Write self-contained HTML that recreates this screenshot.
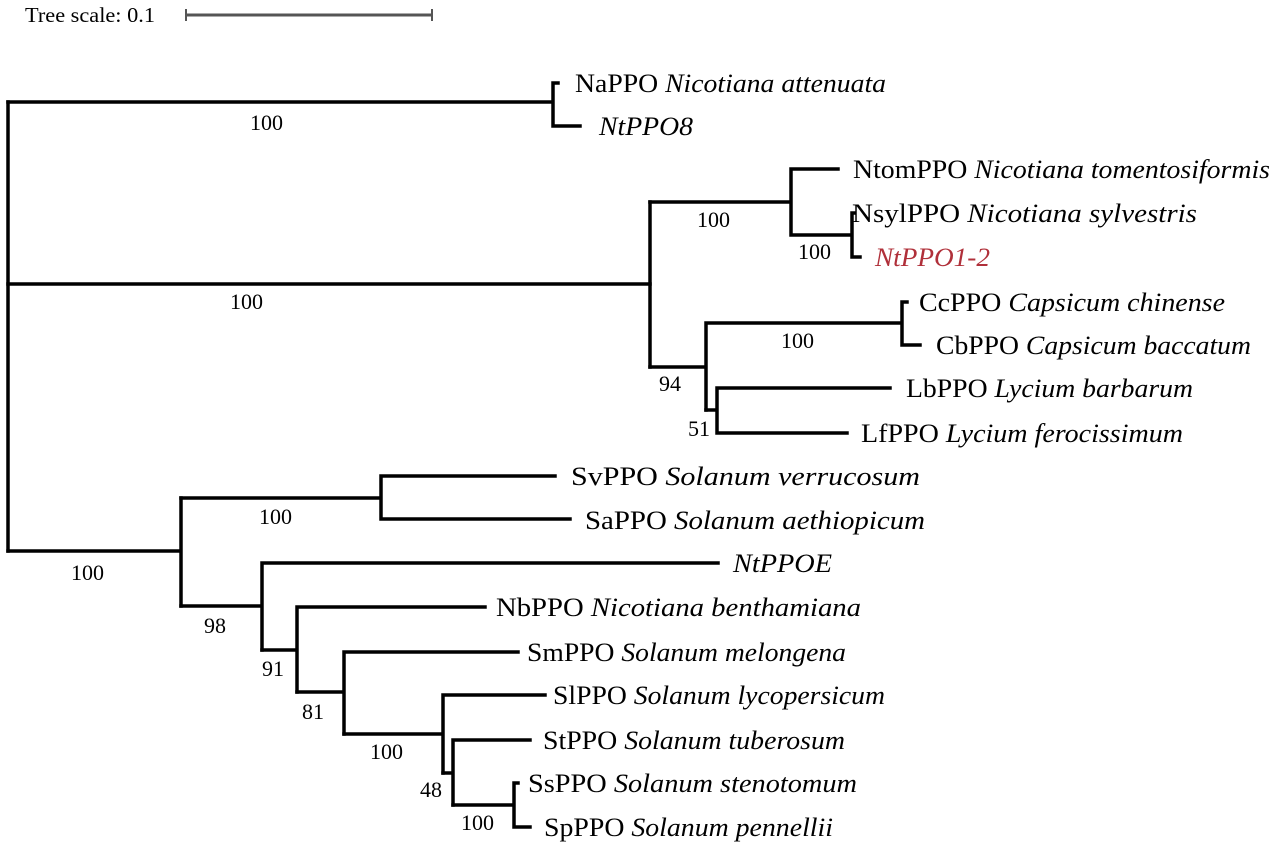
<!DOCTYPE html>
<html><head><meta charset="utf-8"><style>
html,body{margin:0;padding:0;background:#fff;}
svg{display:block;font-family:"Liberation Serif",serif;}
text{font-size:26px;fill:#000;}
.b{font-size:22px;}
</style></head><body>
<svg width="1276" height="849" viewBox="0 0 1276 849">
<text x="25" y="22" style="font-size:21px" textLength="130" lengthAdjust="spacingAndGlyphs">Tree scale: 0.1</text>
<g stroke="#555" stroke-width="3" fill="none">
<line x1="186" y1="15" x2="432" y2="15"/>
<line x1="186" y1="9" x2="186" y2="21" stroke-width="2"/>
<line x1="432" y1="9" x2="432" y2="21" stroke-width="2"/>
</g>
<g stroke="#000" stroke-width="3.5" fill="none" stroke-linecap="square">
<path d="M8 102V551"/>
<path d="M8 102H553M553 83V126M553 83H558M553 126H580"/>
<path d="M8 284H650"/>
<path d="M650 202V367"/>
<path d="M650 202H791M791 169V235M791 169H838M791 235H852M852 213V257M852 213H854M852 257H860"/>
<path d="M650 367H706M706 323V410M706 323H902M902 302V345M902 302H907M902 345H920"/>
<path d="M706 410H717M717 388V433M717 388H890M717 433H847"/>
<path d="M8 551H181M181 498V606"/>
<path d="M181 498H381M381 476V519M381 476H555M381 519H570"/>
<path d="M181 606H262M262 563V650M262 563H718"/>
<path d="M262 650H297M297 607V692M297 607H485"/>
<path d="M297 692H344M344 652V734M344 652H518"/>
<path d="M344 734H443M443 695V773M443 695H545"/>
<path d="M443 773H453M453 740V805M453 740H530"/>
<path d="M453 805H514M514 783V827M514 783H518M514 827H530"/>
</g>
<g>
<text x="575" y="92" textLength="311" lengthAdjust="spacingAndGlyphs">NaPPO <tspan font-style="italic">Nicotiana attenuata</tspan></text>
<text x="599" y="135" font-style="italic" textLength="94" lengthAdjust="spacingAndGlyphs">NtPPO8</text>
<text x="853" y="178" textLength="417" lengthAdjust="spacingAndGlyphs">NtomPPO <tspan font-style="italic">Nicotiana tomentosiformis</tspan></text>
<text x="852" y="222" textLength="345" lengthAdjust="spacingAndGlyphs">NsylPPO <tspan font-style="italic">Nicotiana sylvestris</tspan></text>
<text x="875" y="266" font-style="italic" style="fill:#b0303a" textLength="115" lengthAdjust="spacingAndGlyphs">NtPPO1-2</text>
<text x="919" y="311" textLength="306" lengthAdjust="spacingAndGlyphs">CcPPO <tspan font-style="italic">Capsicum chinense</tspan></text>
<text x="936" y="354" textLength="315" lengthAdjust="spacingAndGlyphs">CbPPO <tspan font-style="italic">Capsicum baccatum</tspan></text>
<text x="906" y="397" textLength="287" lengthAdjust="spacingAndGlyphs">LbPPO <tspan font-style="italic">Lycium barbarum</tspan></text>
<text x="861" y="442" textLength="322" lengthAdjust="spacingAndGlyphs">LfPPO <tspan font-style="italic">Lycium ferocissimum</tspan></text>
<text x="571" y="485" textLength="349" lengthAdjust="spacingAndGlyphs">SvPPO <tspan font-style="italic">Solanum verrucosum</tspan></text>
<text x="585" y="529" textLength="340" lengthAdjust="spacingAndGlyphs">SaPPO <tspan font-style="italic">Solanum aethiopicum</tspan></text>
<text x="733" y="572" font-style="italic" textLength="99" lengthAdjust="spacingAndGlyphs">NtPPOE</text>
<text x="496" y="616" textLength="365" lengthAdjust="spacingAndGlyphs">NbPPO <tspan font-style="italic">Nicotiana benthamiana</tspan></text>
<text x="527" y="661" textLength="319" lengthAdjust="spacingAndGlyphs">SmPPO <tspan font-style="italic">Solanum melongena</tspan></text>
<text x="553" y="704" textLength="332" lengthAdjust="spacingAndGlyphs">SlPPO <tspan font-style="italic">Solanum lycopersicum</tspan></text>
<text x="543" y="749" textLength="302" lengthAdjust="spacingAndGlyphs">StPPO <tspan font-style="italic">Solanum tuberosum</tspan></text>
<text x="528" y="792" textLength="329" lengthAdjust="spacingAndGlyphs">SsPPO <tspan font-style="italic">Solanum stenotomum</tspan></text>
<text x="544" y="836" textLength="289" lengthAdjust="spacingAndGlyphs">SpPPO <tspan font-style="italic">Solanum pennellii</tspan></text>
</g>
<g>
<text class="b" x="250" y="130">100</text>
<text class="b" x="230" y="309">100</text>
<text class="b" x="697" y="227">100</text>
<text class="b" x="798" y="259">100</text>
<text class="b" x="781" y="348">100</text>
<text class="b" x="659" y="391">94</text>
<text class="b" x="688" y="436">51</text>
<text class="b" x="259" y="524">100</text>
<text class="b" x="71" y="580">100</text>
<text class="b" x="204" y="633">98</text>
<text class="b" x="262" y="676">91</text>
<text class="b" x="302" y="719">81</text>
<text class="b" x="370" y="759">100</text>
<text class="b" x="420" y="797">48</text>
<text class="b" x="461" y="830">100</text>
</g>
</svg>
</body></html>
